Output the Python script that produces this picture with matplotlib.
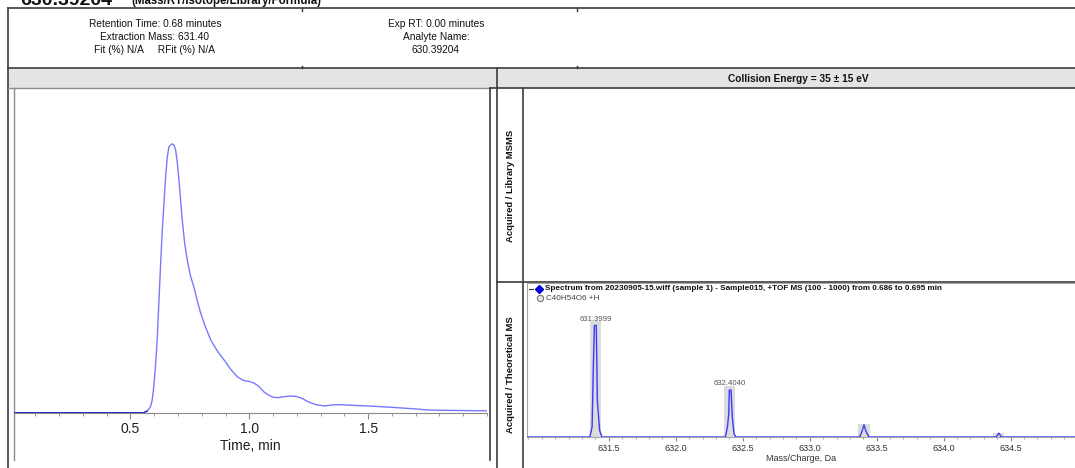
import matplotlib
matplotlib.use("Agg")
import matplotlib.pyplot as plt
from matplotlib.ticker import MultipleLocator

plt.rcParams['font.family'] = ['Liberation Sans', 'DejaVu Sans']

# XIC chromatogram (relative intensity, %)
xic_time = [0.01, 0.555, 0.570, 0.584, 0.591, 0.598, 0.605, 0.613, 0.620, 0.627, 0.634,
            0.641, 0.648, 0.655, 0.662, 0.669, 0.676, 0.683, 0.690, 0.697, 0.704,
            0.711, 0.718, 0.728, 0.739, 0.752, 0.767, 0.780, 0.795, 0.815, 0.838,
            0.865, 0.894, 0.920, 0.950, 0.975, 1.000, 1.020, 1.040, 1.062, 1.080,
            1.098, 1.120, 1.150, 1.175, 1.200, 1.225, 1.246, 1.280, 1.316, 1.350,
            1.386, 1.420, 1.500, 1.600, 1.700, 1.753, 1.800, 1.900, 2.000]
xic_int = [0.0, 0.0, 0.6, 2.1, 4.5, 9.6, 17.0, 28.1, 42.0, 55.6, 68.0,
           78.0, 88.0, 95.1, 99.0, 99.5, 100.0, 99.5, 97.7, 93.0, 86.5,
           79.0, 71.6, 63.0, 56.8, 51.0, 46.7, 42.0, 37.1, 32.0, 27.0,
           23.0, 19.6, 16.3, 13.3, 12.0, 11.6, 11.0, 9.8, 7.7, 6.6,
           5.8, 5.6, 6.0, 6.2, 6.0, 5.2, 4.1, 3.0, 2.5, 2.9,
           3.0, 2.8, 2.5, 2.0, 1.4, 1.0, 0.9, 0.8, 0.7]

# acquired TOF MS spectrum (relative intensity, %)
acq_mz = [630.89, 631.359, 631.376, 631.385, 631.393, 631.407, 631.415, 631.432, 631.449,
          632.371, 632.386, 632.396, 632.400, 632.413, 632.422, 632.435, 632.449,
          633.373, 633.390, 633.405, 633.420, 633.442,
          634.392, 634.411, 634.431, 634.98]
acq_int = [0, 0, 9, 62, 100, 100, 33, 6, 0,
           0, 9, 21, 42, 42, 18, 3, 0,
           0, 5, 11, 5, 0,
           0, 3.5, 0, 0]

# theoretical isotope pattern for C40H54O6 +H
theo_mz = [631.400, 632.403, 633.406, 634.409]
theo_int = [104, 46, 12, 4]

peak_labels = ["631.3999", "632.4040"]
peak_label_mz = [631.3999, 632.4040]
peak_label_int = [100, 42]

mz_ticks = [631.5, 632.0, 632.5, 633.0, 633.5, 634.0, 634.5]

W, H = 1075, 468
fig = plt.figure(figsize=(W / 100, H / 100), dpi=100)


def px_axes(l, t, r, b):
    return fig.add_axes([l / W, 1 - b / H, (r - l) / W, (b - t) / H])


# background layer in pixel coordinates for the report frame
bg = fig.add_axes([0, 0, 1, 1])
bg.set_xlim(0, W)
bg.set_ylim(H, 0)
bg.axis('off')

dark = '#3c3c3c'
mid = '#8c8c8c'

# title line (cut off at the top of the page, as in the report)
bg.text(20, 5, "630.39204", fontsize=14, fontweight='bold', va='baseline', color='#111111')
bg.text(131, 4, "(Mass/RT/Isotope/Library/Formula)", fontsize=8.3, fontweight='bold',
        va='baseline', color='#111111')

# info box
bg.plot([8, W], [8, 8], color=dark, lw=1.2)
bg.plot([8, 8], [8, H], color=dark, lw=1.2)
bg.fill_between([8, W], 68, 88, color='#e4e4e4', lw=0)
bg.plot([8, W], [68, 68], color=dark, lw=1.2)
for xm in (302, 577):
    bg.plot([xm, xm], [8, 10.5], color=dark, lw=1)
    bg.plot([xm, xm], [66, 68], color=dark, lw=1)

info_kw = dict(fontsize=7.3, ha='center', va='center', color='#111111')
bg.text(155, 24, "Retention Time: 0.68 minutes", **info_kw)
bg.text(155, 37, "Extraction Mass: 631.40", **info_kw)
bg.text(155, 50, "Fit (%) N/A     RFit (%) N/A", **info_kw)
bg.text(436, 24, "Exp RT: 0.00 minutes", **info_kw)
bg.text(436, 37, "Analyte Name:", **info_kw)
bg.text(436, 50, "630.39204", **info_kw)

bg.text(798, 78.5, "Collision Energy = 35 ± 15 eV", fontsize=7.3, fontweight='bold',
        ha='center', va='center', color='#111111')

# panel frames
bg.plot([497, 497], [68, H], color=dark, lw=1.2)
bg.plot([8, 490], [88, 88], color=mid, lw=1)
bg.plot([490, W], [88, 88], color=dark, lw=1.2)
bg.plot([13.5, 13.5], [88, 460], color=mid, lw=1)
bg.plot([490, 490], [88, 460], color=dark, lw=1.2)
bg.plot([523, 523], [88, H], color=dark, lw=1.2)
bg.plot([497, W], [281.5, 281.5], color=dark, lw=1.2)

side_kw = dict(fontsize=6.8, fontweight='bold', rotation=90, ha='center', va='center',
               color='#111111')
bg.text(510.5, 186, "Acquired / Library MSMS", **side_kw)
bg.text(510.5, 375, "Acquired / Theoretical MS", **side_kw)

# chromatogram
ax1 = px_axes(14, 90, 487, 412.7)
ax1.plot(xic_time, xic_int, color='#7878ff', lw=1.0)
base = [i for i, t in enumerate(xic_time) if t <= 0.57]
ax1.plot([xic_time[i] for i in base], [xic_int[i] for i in base], color='#2a2acc', lw=1.0)
ax1.set_xlim(0.01, 2.0)
ax1.set_ylim(0, 120)
for s in ('left', 'top', 'right'):
    ax1.spines[s].set_visible(False)
ax1.spines['bottom'].set_color('#8a8a8a')
ax1.patch.set_alpha(0)
ax1.xaxis.set_minor_locator(MultipleLocator(0.1))
ax1.tick_params(axis='x', which='major', length=4, color='#8a8a8a', labelsize=10,
                labelcolor='#202020', pad=3)
ax1.tick_params(axis='x', which='minor', length=2.5, color='#8a8a8a')
ax1.set_yticks([])
ax1.set_xticks([0.5, 1.0, 1.5])
ax1.set_xticklabels(["0.5", "1.0", "1.5"])
ax1.set_xlabel("Time, min", fontsize=10, color='#202020', labelpad=2)

# spectrum
ax2 = px_axes(527, 283, W, 437)
ax2.patch.set_alpha(0)
ax2.bar(theo_mz, theo_int, width=0.085, color='#dcdcdc', lw=0, zorder=1)
ax2.plot(acq_mz, acq_int, color='#3a3aff', lw=1.0, zorder=3)
for lab, mz, it in zip(peak_labels, peak_label_mz, peak_label_int):
    ax2.annotate(lab, xy=(mz, it), xytext=(0, 2), textcoords='offset points',
                 ha='center', va='bottom', fontsize=5.6, color='#555555')
ax2.spines['right'].set_visible(False)
for s in ('left', 'top', 'bottom'):
    ax2.spines[s].set_color('#a8a8a8')
ax2.set_yticks([])
ax2.set_xticks(mz_ticks)
ax2.set_xticklabels([f"{v:.1f}" for v in mz_ticks])
ax2.xaxis.set_minor_locator(MultipleLocator(0.1))
ax2.tick_params(axis='x', which='major', length=3, color='#888888', labelsize=6.5,
                labelcolor='#333333', pad=2)
ax2.tick_params(axis='x', which='minor', length=1.5, color='#888888')
ax2.set_xlim(630.89, 634.98)
ax2.set_ylim(0, 138)
ax2.set_xlabel("Mass/Charge, Da", fontsize=6.5, color='#333333', labelpad=1)

# spectrum legend
bg.plot([529, 533], [288.5, 288.5], color='#333333', lw=0.8)
bg.plot([538.5], [288.5], marker='D', ms=4, color='#0000ff', mec='#0000cc')
bg.text(545, 288.5, "Spectrum from 20230905-15.wiff (sample 1) - Sample015, +TOF MS (100 - 1000) "
        "from 0.686 to 0.695 min", fontsize=5.9, fontweight='bold', va='center', color='#111111')
bg.plot([540], [298], marker='o', ms=4.5, mfc='#e6e6e6', mec='#777777', mew=0.8)
bg.text(546, 298, "C40H54O6 +H", fontsize=5.9, va='center', color='#444444')

fig.savefig("out.png", dpi=100)
